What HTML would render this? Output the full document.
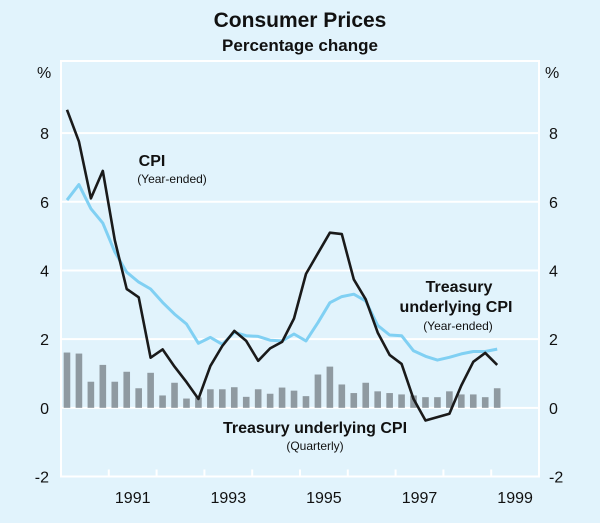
<!DOCTYPE html>
<html><head><meta charset="utf-8"><style>
body{margin:0;background:#e1f3fc;}
svg{display:block;font-family:"Liberation Sans",Arial,sans-serif;}
</style></head><body>
<svg id="chart" width="600" height="523" viewBox="0 0 600 523">
<rect x="0" y="0" width="600" height="523" fill="#e1f3fc"/>
<text x="300" y="27" text-anchor="middle" font-size="21" font-weight="bold" fill="#111">Consumer Prices</text>
<text x="300" y="51" text-anchor="middle" font-size="17" font-weight="bold" fill="#111">Percentage change</text>
<g id="grid"></g><g id="bars"></g><g id="lines"></g><g id="axes"></g>
<text x="152" y="166" text-anchor="middle" font-size="16" font-weight="bold" fill="#111">CPI</text>
<text x="172" y="183" text-anchor="middle" font-size="12" fill="#111">(Year-ended)</text>
<text x="459" y="292" text-anchor="middle" font-size="16" font-weight="bold" fill="#111">Treasury</text>
<text x="456" y="312" text-anchor="middle" font-size="16" font-weight="bold" fill="#111">underlying CPI</text>
<text x="458" y="330" text-anchor="middle" font-size="12" fill="#111">(Year-ended)</text>
<text x="315" y="433" text-anchor="middle" font-size="16" font-weight="bold" fill="#111">Treasury underlying CPI</text>
<text x="315" y="450" text-anchor="middle" font-size="12" fill="#111">(Quarterly)</text>
</svg>
<script>
const cpi=[8.68,7.76,6.1,6.9,4.88,3.46,3.22,1.46,1.7,1.2,0.75,0.26,1.22,1.8,2.24,1.95,1.37,1.73,1.92,2.6,3.9,4.5,5.1,5.06,3.74,3.16,2.19,1.54,1.28,0.26,-0.37,-0.27,-0.17,0.65,1.34,1.6,1.25];
const underlying=[6.05,6.5,5.8,5.38,4.54,3.95,3.66,3.46,3.07,2.73,2.44,1.88,2.05,1.85,2.2,2.1,2.08,1.97,1.95,2.15,1.95,2.48,3.06,3.24,3.31,3.11,2.4,2.12,2.1,1.66,1.5,1.39,1.47,1.57,1.64,1.64,1.71];
const quarterly=[1.61,1.58,0.76,1.25,0.76,1.05,0.57,1.02,0.36,0.73,0.27,0.3,0.54,0.54,0.6,0.32,0.54,0.41,0.59,0.5,0.34,0.97,1.2,0.68,0.43,0.73,0.48,0.43,0.39,0.36,0.31,0.31,0.48,0.39,0.39,0.31,0.57];
const yTicks=[-2,0,2,4,6,8];
const yearLabels=["1991","1993","1995","1999"].length?["1991","1993","1995","1997","1999"]:[];
const startYear=1990, endYear=2000, yMin=-2, yMax=10.1;
const L=61,R=539,T=61,B=476.5;
const NS="http://www.w3.org/2000/svg";
function xq(i){return L+(i+0.5)*(R-L)/((endYear-startYear)*4);}
function xy(yr){return L+(yr-startYear)*(R-L)/(endYear-startYear);}
function y(v){return B-(v-yMin)*(B-T)/(yMax-yMin);}
function mk(tag,attrs,parent){const e=document.createElementNS(NS,tag);for(const k in attrs)e.setAttribute(k,attrs[k]);parent.appendChild(e);return e;}
const grid=document.getElementById('grid'),bars=document.getElementById('bars'),lines=document.getElementById('lines'),axes=document.getElementById('axes');
yTicks.forEach(t=>{
 if(t>yMin){const g=mk('line',{x1:L,x2:R,y1:y(t),y2:y(t),stroke:'#fff','stroke-width':2},grid);
 
 }
 const a=mk('text',{x:49,y:y(t)+6,'text-anchor':'end','font-size':16,fill:'#111'},axes);a.textContent=t;
 
 
 const b=mk('text',{x:549,y:y(t)+6,'text-anchor':'start','font-size':16,fill:'#111'},axes);b.textContent=t;
 
 
});
const pl=mk('text',{x:37,y:78,'font-size':16,fill:'#111'},axes);pl.textContent='%';


const pr=mk('text',{x:545,y:78,'font-size':16,fill:'#111'},axes);pr.textContent='%';


const frame=mk('rect',{x:L,y:T,width:R-L,height:B-T,fill:'none',stroke:'#fff','stroke-width':2},grid);


for(let yr=startYear+1;yr<endYear;yr++){const tk=mk('line',{x1:xy(yr),x2:xy(yr),y1:B,y2:B-7,stroke:'#fff','stroke-width':2},grid);
 
 }
yearLabels.forEach(l=>{const yr=+l;const t=mk('text',{x:xy(yr+0.5),y:503,'text-anchor':'middle','font-size':16,fill:'#111'},axes);t.textContent=l;
 
 });
quarterly.forEach((v,i)=>{const r=mk('rect',{x:xq(i)-3.3,y:Math.min(y(v),y(0)),width:6.6,height:Math.abs(y(v)-y(0)),fill:'#8f9aa1'},bars);
 
 });
function path(arr){return arr.map((v,i)=>(i?'L':'M')+xq(i).toFixed(1)+','+y(v).toFixed(1)).join('');}
const ul=mk('path',{d:path(underlying),fill:'none',stroke:'#80d0f3','stroke-width':3,'stroke-linejoin':'round'},lines);


const cl=mk('path',{d:path(cpi),fill:'none',stroke:'#1a1a1a','stroke-width':2.6,'stroke-linejoin':'round'},lines);


</script>
</body></html>
